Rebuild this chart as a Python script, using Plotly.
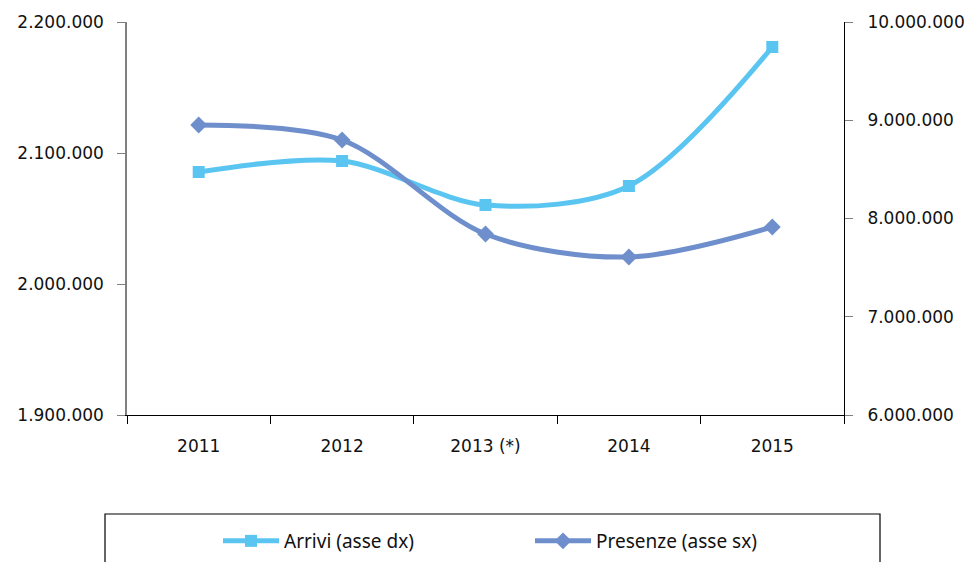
import plotly.graph_objects as go

years = ["2011", "2012", "2013 (*)", "2014", "2015"]
arrivi = [2085500, 2093900, 2060300, 2074800, 2180900]
presenze = [8951700, 8799000, 7842000, 7608000, 7913500]

left_ticks = [1900000, 2000000, 2100000, 2200000]
left_labels = ["1.900.000", "2.000.000", "2.100.000", "2.200.000"]
right_ticks = [6000000, 7000000, 8000000, 9000000, 10000000]
right_labels = ["6.000.000", "7.000.000", "8.000.000", "9.000.000", "10.000.000"]

light = "#5BC5F2"
dark = "#6E8FCB"

fig = go.Figure()
fig.add_trace(go.Scatter(
    x=years, y=arrivi, name="Arrivi (asse dx)", mode="lines+markers",
    line=dict(color=light, width=5, shape="spline", smoothing=0.9),
    marker=dict(symbol="square", size=12, color=light),
    yaxis="y"))
fig.add_trace(go.Scatter(
    x=years, y=presenze, name="Presenze (asse sx)", mode="lines+markers",
    line=dict(color=dark, width=5, shape="spline", smoothing=0.9),
    marker=dict(symbol="diamond", size=13, color=dark),
    yaxis="y2"))

OFF = 8  # page body margin
W, H = 973 - OFF, 562 - OFF
# page-pixel plot edges
PL, PR, PT, PB = 127, 844, 22, 415
ml, mt = PL - OFF, PT - OFF
mr = W - (PR - OFF)
mb = H - (PB - OFF)
pw, ph = W - ml - mr, H - mt - mb

def px_x(x):
    return (x - PL) / pw

def px_y(y):
    return (PB - y) / ph

fig.update_layout(
    width=W, height=H,
    margin=dict(l=ml, r=mr, t=mt, b=mb, autoexpand=False),
    paper_bgcolor="white", plot_bgcolor="white",
    font=dict(family="DejaVu Sans", size=17, color="#111111"),
    showlegend=True,
    legend=dict(
        orientation="h", x=px_x(218), xanchor="left", y=px_y(541), yanchor="middle",
        font=dict(family="Noto Sans", size=19, color="#111111"),
        itemwidth=56,
        entrywidth=241, entrywidthmode="pixels",
        bgcolor="rgba(0,0,0,0)", borderwidth=0,
    ),
    xaxis=dict(
        type="category", range=[-0.5, 4.5],
        showline=True, linecolor="#000000", linewidth=1,
        ticks="outside", tickson="boundaries", ticklen=8, tickcolor="#000000",
        ticklabelstandoff=16, showgrid=False, zeroline=False,
        tickfont=dict(family="DejaVu Sans", size=17),
    ),
    yaxis=dict(
        range=[1900000, 2200000], tickvals=left_ticks, ticktext=left_labels,
        showline=True, linecolor="#808080", linewidth=1.5,
        ticks="outside", ticklen=8, tickcolor="#808080",
        ticklabelstandoff=10, showgrid=False, zeroline=False,
        tickfont=dict(family="DejaVu Sans", size=17),
    ),
    yaxis2=dict(
        range=[6000000, 10000000], tickvals=right_ticks, ticktext=right_labels,
        overlaying="y", side="right",
        showline=True, linecolor="#000000", linewidth=1,
        ticks="outside", ticklen=8, tickcolor="#808080",
        ticklabelstandoff=11, showgrid=False, zeroline=False,
        tickfont=dict(family="DejaVu Sans", size=17),
    ),
    shapes=[dict(
        type="rect", xref="paper", yref="paper",
        x0=px_x(105), x1=px_x(880), y0=px_y(580), y1=px_y(514),
        line=dict(color="#000000", width=1.2), fillcolor="rgba(0,0,0,0)",
        layer="below",
    )],
)

fig.write_html("out.html")
